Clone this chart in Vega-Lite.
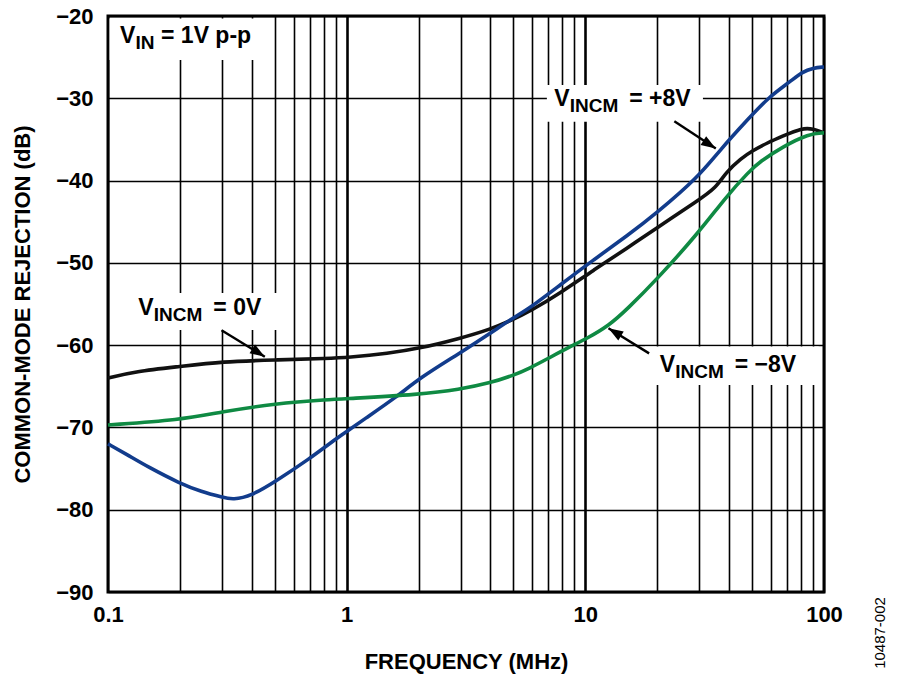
{
  "$schema": "https://vega.github.io/schema/vega-lite/v6.json",
  "width": 716,
  "height": 576,
  "autosize": "none",
  "padding": {"left": 108, "top": 16, "right": 76, "bottom": 86},
  "background": "white",
  "config": {
    "view": {"stroke": "black", "strokeWidth": 3},
    "font": "Liberation Sans"
  },
  "datasets": {
    "curves": [
      {"series": "0V", "f": 0.1, "db": -64.0},
      {"series": "0V", "f": 0.13, "db": -63.2},
      {"series": "0V", "f": 0.2, "db": -62.6},
      {"series": "0V", "f": 0.3, "db": -62.0},
      {"series": "0V", "f": 0.5, "db": -61.8},
      {"series": "0V", "f": 0.85, "db": -61.6},
      {"series": "0V", "f": 1, "db": -61.5},
      {"series": "0V", "f": 1.5, "db": -61.0},
      {"series": "0V", "f": 2.02, "db": -60.4},
      {"series": "0V", "f": 2.97, "db": -59.2},
      {"series": "0V", "f": 3.98, "db": -58.1},
      {"series": "0V", "f": 4.97, "db": -56.9},
      {"series": "0V", "f": 5.85, "db": -55.9},
      {"series": "0V", "f": 7.83, "db": -53.7},
      {"series": "0V", "f": 10.8, "db": -50.9},
      {"series": "0V", "f": 15, "db": -48.2},
      {"series": "0V", "f": 19.8, "db": -45.8},
      {"series": "0V", "f": 29.7, "db": -42.4},
      {"series": "0V", "f": 35.2, "db": -40.9},
      {"series": "0V", "f": 38.8, "db": -39.0},
      {"series": "0V", "f": 45, "db": -37.3},
      {"series": "0V", "f": 50, "db": -36.4},
      {"series": "0V", "f": 58, "db": -35.4},
      {"series": "0V", "f": 67, "db": -34.6},
      {"series": "0V", "f": 81, "db": -33.6},
      {"series": "0V", "f": 90, "db": -33.7},
      {"series": "0V", "f": 100, "db": -34.2},
      {"series": "+8V", "f": 0.1, "db": -72.0},
      {"series": "+8V", "f": 0.121, "db": -73.35},
      {"series": "+8V", "f": 0.147, "db": -74.8},
      {"series": "+8V", "f": 0.2, "db": -76.8},
      {"series": "+8V", "f": 0.246, "db": -77.8},
      {"series": "+8V", "f": 0.303, "db": -78.5},
      {"series": "+8V", "f": 0.333, "db": -78.8},
      {"series": "+8V", "f": 0.4, "db": -78.3},
      {"series": "+8V", "f": 0.5, "db": -76.6},
      {"series": "+8V", "f": 0.689, "db": -73.95},
      {"series": "+8V", "f": 0.95, "db": -70.9},
      {"series": "+8V", "f": 1, "db": -70.5},
      {"series": "+8V", "f": 1.17, "db": -69.1},
      {"series": "+8V", "f": 1.62, "db": -66.3},
      {"series": "+8V", "f": 2.02, "db": -64.0},
      {"series": "+8V", "f": 2.97, "db": -61.0},
      {"series": "+8V", "f": 3.98, "db": -58.6},
      {"series": "+8V", "f": 4.97, "db": -56.7},
      {"series": "+8V", "f": 5.85, "db": -55.5},
      {"series": "+8V", "f": 7.83, "db": -52.7},
      {"series": "+8V", "f": 10.8, "db": -49.65},
      {"series": "+8V", "f": 15, "db": -46.7},
      {"series": "+8V", "f": 19.8, "db": -44.0},
      {"series": "+8V", "f": 29.7, "db": -39.6},
      {"series": "+8V", "f": 36.6, "db": -36.3},
      {"series": "+8V", "f": 48.5, "db": -32.4},
      {"series": "+8V", "f": 59, "db": -29.8},
      {"series": "+8V", "f": 72, "db": -28.0},
      {"series": "+8V", "f": 81, "db": -26.8},
      {"series": "+8V", "f": 90, "db": -26.3},
      {"series": "+8V", "f": 100, "db": -26.2},
      {"series": "-8V", "f": 0.1, "db": -69.7},
      {"series": "-8V", "f": 0.2, "db": -69.1},
      {"series": "-8V", "f": 0.3, "db": -68.1},
      {"series": "-8V", "f": 0.5, "db": -67.1},
      {"series": "-8V", "f": 0.85, "db": -66.6},
      {"series": "-8V", "f": 1, "db": -66.5},
      {"series": "-8V", "f": 2.02, "db": -66.0},
      {"series": "-8V", "f": 2.97, "db": -65.4},
      {"series": "-8V", "f": 3.98, "db": -64.6},
      {"series": "-8V", "f": 4.97, "db": -63.7},
      {"series": "-8V", "f": 5.85, "db": -62.8},
      {"series": "-8V", "f": 7, "db": -61.6},
      {"series": "-8V", "f": 8.62, "db": -60.2},
      {"series": "-8V", "f": 10, "db": -59.3},
      {"series": "-8V", "f": 12.6, "db": -57.6},
      {"series": "-8V", "f": 15, "db": -55.6},
      {"series": "-8V", "f": 19.8, "db": -52.1},
      {"series": "-8V", "f": 29.7, "db": -46.4},
      {"series": "-8V", "f": 38.8, "db": -42.0},
      {"series": "-8V", "f": 48.5, "db": -38.9},
      {"series": "-8V", "f": 53.9, "db": -37.7},
      {"series": "-8V", "f": 67, "db": -35.9},
      {"series": "-8V", "f": 86.5, "db": -34.3},
      {"series": "-8V", "f": 100, "db": -34.2}
    ],
    "boxes": [
      {"name": "vin", "f": 0.1015, "f2": 0.47, "db": -20.3, "db2": -25.35},
      {"name": "0V", "f": 0.122, "f2": 0.56, "db": -53.66, "db2": -58.16},
      {"name": "+8V", "f": 6.9, "f2": 31.1, "db": -28.38, "db2": -32.84},
      {"name": "-8V", "f": 17.8, "f2": 95, "db": -60.15, "db2": -64.84}
    ],
    "arrows": [
      {"name": "0V", "f": 0.299, "db": -58.2, "f2": 0.454, "db2": -61.4},
      {"name": "+8V", "f": 23.6, "db": -32.8, "f2": 35.2, "db2": -36.1},
      {"name": "-8V", "f": 18.5, "db": -61.0, "f2": 12.5, "db2": -57.95}
    ],
    "notes": [
      {"name": "vin", "f": 0.1123, "db": -23.32, "sub": "IN", "rest": "= 1V p-p"},
      {"name": "0V", "f": 0.134, "db": -56.33, "sub": "INCM", "rest": "= 0V"},
      {"name": "+8V", "f": 7.41, "db": -30.94, "sub": "INCM", "rest": "= +8V"},
      {"name": "-8V", "f": 20.5, "db": -63.22, "sub": "INCM", "rest": "= \u22128V"}
    ],
    "tag": [
      {"f": 171, "db": -94.98, "label": "10487-002"}
    ]
  },
  "encoding": {
    "x": {
      "field": "f",
      "type": "quantitative",
      "scale": {"type": "log", "domain": [0.1, 100], "nice": false},
      "axis": {
        "title": "FREQUENCY (MHz)",
        "values": [0.1, 0.2, 0.3, 0.4, 0.5, 0.6, 0.7, 0.8, 0.9, 1, 2, 3, 4, 5, 6, 7, 8, 9, 10, 20, 30, 40, 50, 60, 70, 80, 90, 100],
        "labelExpr": "datum.value == 0.1 ? '0.1' : datum.value == 1 ? '1' : datum.value == 10 ? '10' : datum.value == 100 ? '100' : ''",
        "labelOverlap": false,
        "labelFlush": false,
        "grid": true,
        "gridColor": "black",
        "gridOpacity": 1,
        "gridWidth": {"condition": {"test": "datum.value == 1 || datum.value == 10", "value": 2.6}, "value": 1.6},
        "ticks": false,
        "domain": false,
        "labelFont": "Liberation Sans",
        "labelFontWeight": "bold",
        "labelFontSize": 22,
        "labelColor": "black",
        "labelPadding": 12,
        "titleFont": "Liberation Sans",
        "titleFontWeight": "bold",
        "titleFontSize": 22,
        "titleColor": "black",
        "titlePadding": 26
      }
    },
    "y": {
      "field": "db",
      "type": "quantitative",
      "scale": {"domain": [-90, -20], "nice": false, "zero": false},
      "axis": {
        "title": "COMMON-MODE REJECTION (dB)",
        "values": [-90, -80, -70, -60, -50, -40, -30, -20],
        "grid": true,
        "gridColor": "black",
        "gridOpacity": 1,
        "gridWidth": 1.6,
        "ticks": false,
        "domain": false,
        "labelFont": "Liberation Sans",
        "labelFontWeight": "bold",
        "labelFontSize": 22,
        "labelColor": "black",
        "labelPadding": 15,
        "titleFont": "Liberation Sans",
        "titleFontWeight": "bold",
        "titleFontSize": 22,
        "titleColor": "black",
        "titlePadding": 21
      }
    }
  },
  "layer": [
    {
      "data": {"name": "boxes"},
      "mark": {"type": "rect", "fill": "white", "stroke": null},
      "encoding": {"x2": {"field": "f2"}, "y2": {"field": "db2"}}
    },
    {
      "data": {"name": "curves"},
      "mark": {"type": "line", "strokeWidth": 3.6, "interpolate": "basis"},
      "encoding": {
        "color": {
          "field": "series",
          "type": "nominal",
          "scale": {"domain": ["0V", "+8V", "-8V"], "range": ["#111111", "#123c8c", "#0f8a43"]},
          "legend": null
        }
      }
    },
    {
      "data": {"name": "arrows"},
      "mark": {"type": "rule", "color": "black", "strokeWidth": 2.4},
      "encoding": {"x2": {"field": "f2"}, "y2": {"field": "db2"}}
    },
    {
      "data": {"name": "arrows"},
      "transform": [{"filter": "datum.name == '0V'"}],
      "mark": {"type": "point", "shape": "M0,0L0.6,1.7L-0.6,1.7Z", "filled": true, "color": "black", "opacity": 1, "size": 300, "angle": 121.7},
      "encoding": {"x": {"field": "f2", "type": "quantitative"}, "y": {"field": "db2", "type": "quantitative"}}
    },
    {
      "data": {"name": "arrows"},
      "transform": [{"filter": "datum.name == '+8V'"}],
      "mark": {"type": "point", "shape": "M0,0L0.6,1.7L-0.6,1.7Z", "filled": true, "color": "black", "opacity": 1, "size": 300, "angle": 122.5},
      "encoding": {"x": {"field": "f2", "type": "quantitative"}, "y": {"field": "db2", "type": "quantitative"}}
    },
    {
      "data": {"name": "arrows"},
      "transform": [{"filter": "datum.name == '-8V'"}],
      "mark": {"type": "point", "shape": "M0,0L0.6,1.7L-0.6,1.7Z", "filled": true, "color": "black", "opacity": 1, "size": 300, "angle": 301.6},
      "encoding": {"x": {"field": "f2", "type": "quantitative"}, "y": {"field": "db2", "type": "quantitative"}}
    },
    {
      "data": {"name": "notes"},
      "mark": {"type": "text", "text": "V", "align": "left", "baseline": "alphabetic", "font": "Liberation Sans", "fontWeight": "bold", "fontSize": 23, "color": "black"}
    },
    {
      "data": {"name": "notes"},
      "mark": {"type": "text", "align": "left", "baseline": "alphabetic", "dx": 15.5, "dy": 6, "font": "Liberation Sans", "fontWeight": "bold", "fontSize": 19, "color": "black"},
      "encoding": {"text": {"field": "sub"}}
    },
    {
      "data": {"name": "notes"},
      "transform": [{"filter": "datum.sub == 'INCM'"}],
      "mark": {"type": "text", "align": "left", "baseline": "alphabetic", "dx": 75, "font": "Liberation Sans", "fontWeight": "bold", "fontSize": 23, "color": "black"},
      "encoding": {"text": {"field": "rest"}}
    },
    {
      "data": {"name": "notes"},
      "transform": [{"filter": "datum.sub == 'IN'"}],
      "mark": {"type": "text", "align": "left", "baseline": "alphabetic", "dx": 41, "font": "Liberation Sans", "fontWeight": "bold", "fontSize": 23, "color": "black"},
      "encoding": {"text": {"field": "rest"}}
    },
    {
      "data": {"name": "tag"},
      "mark": {"type": "text", "angle": 270, "align": "center", "baseline": "middle", "font": "Liberation Sans", "fontSize": 15, "color": "black"},
      "encoding": {"text": {"field": "label"}}
    }
  ]
}
